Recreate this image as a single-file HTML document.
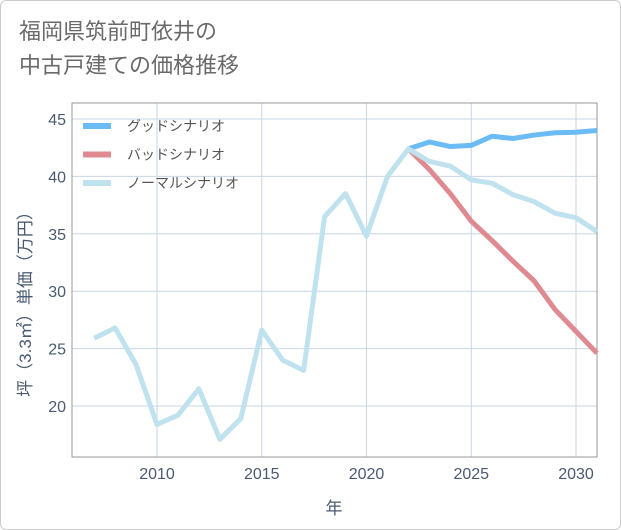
<!DOCTYPE html>
<html><head><meta charset="utf-8"><style>
body{margin:0;background:#fff;}
#card{position:relative;width:619px;height:528px;border:1px solid #ccc;border-radius:6px;background:#fff;font-family:"Liberation Sans","Noto Sans CJK JP",sans-serif;}
#title{position:absolute;left:18px;top:14px;font-size:22px;line-height:34px;color:#6a6a6a;}
svg text{font-family:"Liberation Sans","Noto Sans CJK JP",sans-serif;}
</style></head><body>
<div id="card">
<div id="title">福岡県筑前町依井の<br>中古戸建ての価格推移</div>
<svg id="chart" width="621" height="530" style="position:absolute;left:-1px;top:-1px"></svg>
</div>
<script>
const years=[2007,2008,2009,2010,2011,2012,2013,2014,2015,2016,2017,2018,2019,2020,2021,2022,2023,2024,2025,2026,2027,2028,2029,2030,2031];
const normal=[25.9,26.8,23.6,18.4,19.2,21.5,17.1,18.9,26.6,24.0,23.1,36.5,38.5,34.8,40.0,42.4,41.3,40.9,39.7,39.4,38.4,37.8,36.8,36.4,35.2];
const fYears=[2022,2023,2024,2025,2026,2027,2028,2029,2030,2031];
const good=[42.4,43.0,42.6,42.7,43.5,43.3,43.6,43.8,43.85,44.0];
const bad=[42.4,40.6,38.5,36.1,34.4,32.6,30.9,28.4,26.5,24.6];
const xTicks=[2010,2015,2020,2025,2030];
const yTicks=[20,25,30,35,40,45];
const NS='http://www.w3.org/2000/svg';
const svg=document.getElementById('chart');
const L=72,R=597,T=103,B=457;
const x=v=>157+(v-2010)*20.95;
const y=v=>406-(v-20)*11.48;
function mk(t,a){const e=document.createElementNS(NS,t);for(const k in a)e.setAttribute(k,a[k]);svg.appendChild(e);return e;}
xTicks.forEach(v=>{
const g=mk('line',{x1:x(v),x2:x(v),y1:T,y2:B,stroke:'#c8d6e5','stroke-width':1});


const t=mk('text',{x:x(v),y:479,'text-anchor':'middle','font-size':16,fill:'#4a5a70'});t.textContent=v;


});
yTicks.forEach(v=>{
const g=mk('line',{x1:L,x2:R,y1:y(v),y2:y(v),stroke:'#c8d6e5','stroke-width':1});


const t=mk('text',{x:66,y:y(v)+6,'text-anchor':'end','font-size':16,fill:'#4a5a70'});t.textContent=v;


});
const box=mk('rect',{x:L,y:T,width:R-L,height:B-T,fill:'none',stroke:'#999','stroke-width':1});


function line(xs,ys,col,name){
const p=mk('polyline',{points:xs.map((v,i)=>x(v)+','+y(ys[i])).join(' '),fill:'none',stroke:col,'stroke-width':5,'stroke-linejoin':'round'});


}
line(fYears,bad,'#de8a90','bad-scenario-line');
line(fYears,good,'#6bbcf5','good-scenario-line');
line(years,normal,'#bfe2ee','normal-scenario-line');
const leg=[['グッドシナリオ','#6bbcf5'],['バッドシナリオ','#de8a90'],['ノーマルシナリオ','#bfe2ee']];
leg.forEach((d,i)=>{
const ly=126+i*28.5;
const l=mk('line',{x1:83,x2:111,y1:ly,y2:ly,stroke:d[1],'stroke-width':6});


const t=mk('text',{x:127,y:ly+5,'font-size':14,fill:'#555'});t.textContent=d[0];


});
const xt=mk('text',{x:334,y:514,'text-anchor':'middle','font-size':17,fill:'#4a5a70'});xt.textContent='年';


const yt=mk('text',{x:0,y:0,'text-anchor':'middle','font-size':17,fill:'#4a5a70',transform:'translate(31,300) rotate(-90)'});yt.textContent='坪（3.3㎡）単価（万円）';


</script>
</body></html>
